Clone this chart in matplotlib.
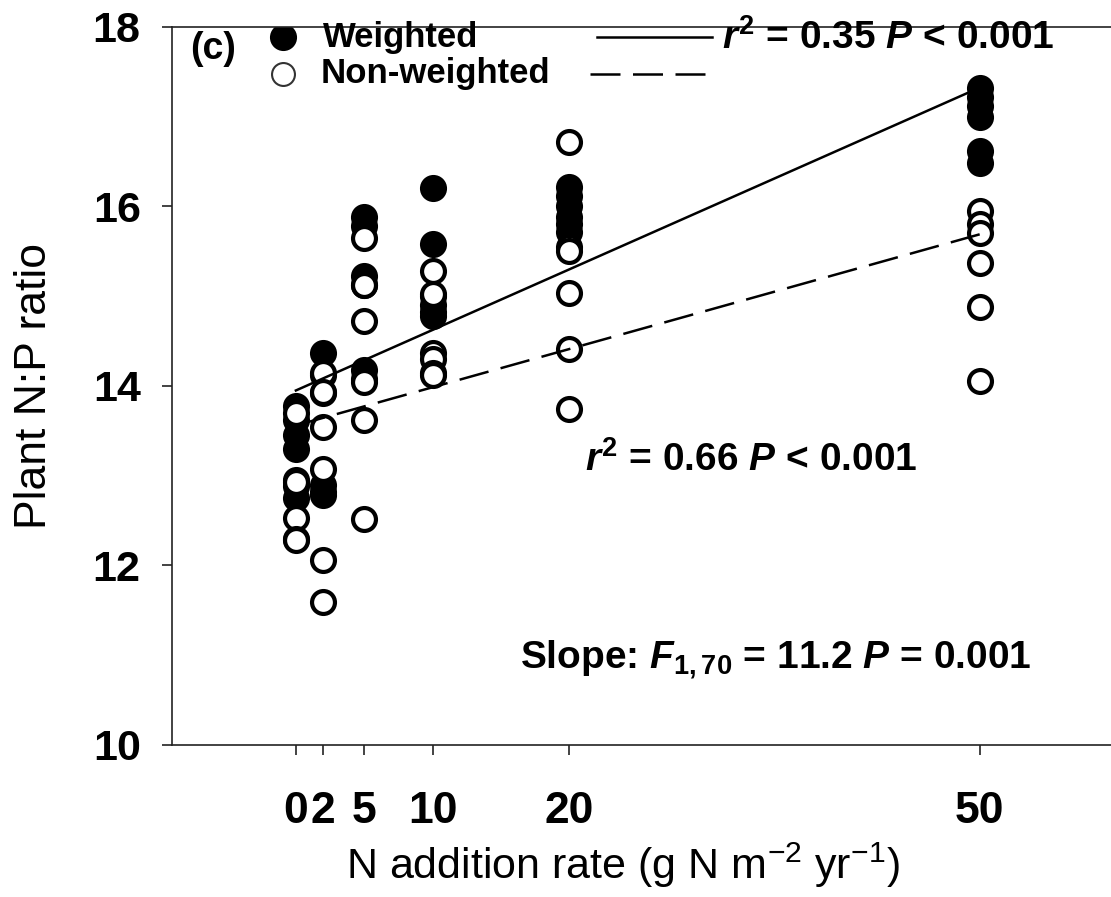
import numpy as np
import matplotlib
matplotlib.use("Agg")
import matplotlib.pyplot as plt
from matplotlib.lines import Line2D

# ------------------------- #
# Dados
# ------------------------- #
n_levels = [0, 2, 5, 10, 20, 50]
tick_labels = ["0", "2", "5", "10", "20", "50"]

# N:P ponderado (círculos cheios), 6 réplicas por nível
weighted = [
    [13.78, 13.62, 13.45, 13.30, 12.88, 12.75],
    [14.37, 14.12, 13.92, 12.90, 12.82, 12.78],
    [15.88, 15.78, 15.22, 15.12, 14.18, 14.08],
    [16.21, 15.58, 15.00, 14.90, 14.82, 14.78],
    [16.22, 16.12, 16.00, 15.88, 15.80, 15.72],
    [17.32, 17.22, 17.12, 17.00, 16.62, 16.48],
]

# N:P não ponderado (círculos abertos)
non_weighted = [
    [13.70, 12.95, 12.93, 12.53, 12.29, 12.28],
    [14.15, 13.93, 13.54, 13.07, 12.06, 11.59],
    [15.65, 15.13, 14.72, 14.04, 13.62, 12.52],
    [15.28, 15.02, 14.37, 14.30, 14.15, 14.12],
    [16.72, 15.55, 15.50, 15.04, 14.41, 13.74],
    [15.95, 15.80, 15.70, 15.37, 14.88, 14.06],
]

# regressões (intercepto, inclinação)
fit_weighted = (13.95, 0.0675)
fit_non_weighted = (13.56, 0.0426)

txt_weighted = r"$r^2$ = 0.35 $P$ < 0.001"
txt_non_weighted = r"$r^2$ = 0.66 $P$ < 0.001"
txt_slope = r"Slope: $F_{1,70}$ = 11.2 $P$ = 0.001"

# ------------------------- #
# Estilo
# ------------------------- #
plt.rcParams["font.family"] = ["Liberation Sans", "DejaVu Sans"]
plt.rcParams["mathtext.fontset"] = "custom"
plt.rcParams["mathtext.rm"] = "Liberation Sans:bold"
plt.rcParams["mathtext.it"] = "Liberation Sans:italic:bold"
plt.rcParams["mathtext.bf"] = "Liberation Sans:bold"

fig = plt.figure(figsize=(11.11, 8.97), dpi=100)
ax = fig.add_axes([0.1548, 0.1695, 0.8452, 0.8004])

MS = 16.5
EW = 3.0

# pontos ponderados (cheios)
for x, vals in zip(n_levels, weighted):
    ax.plot([x] * len(vals), vals, "o", ms=MS, mfc="black", mec="black",
            mew=EW, ls="none", zorder=3)

# pontos não ponderados (abertos)
for x, vals in zip(n_levels, non_weighted):
    ax.plot([x] * len(vals), vals, "o", ms=MS, mfc="white", mec="black",
            mew=EW, ls="none", zorder=4)

# linhas de regressão
xx = np.array([n_levels[0], n_levels[-1]])
ax.plot(xx, fit_weighted[0] + fit_weighted[1] * xx, color="black",
        lw=1.8, zorder=5)
ax.plot(xx, fit_non_weighted[0] + fit_non_weighted[1] * xx, color="black",
        lw=1.8, ls=(0, (12, 5)), zorder=5)

# eixos
ax.set_xlim(-9.06, 59.6)
ax.set_ylim(10, 18)
ax.set_xticks(n_levels)
ax.set_xticklabels(tick_labels)
ax.set_yticks([10, 12, 14, 16, 18])
ax.spines["right"].set_visible(False)
for s in ["left", "bottom", "top"]:
    ax.spines[s].set_linewidth(1.2)
    ax.spines[s].set_color("#222222")
ax.tick_params(axis="both", direction="out", length=7.5, width=1.2,
               color="#222222")
ax.tick_params(axis="x", pad=26, labelsize=32)
ax.tick_params(axis="y", pad=15, labelsize=31)
for lab in ax.get_xticklabels() + ax.get_yticklabels():
    lab.set_fontweight("bold")

ax.set_xlabel(r"N addition rate (g N m$^{\mathregular{-2}}$ yr$^{\mathregular{-1}}$)",
              fontsize=31)
ax.xaxis.set_label_coords(0.48, -0.133)
ax.set_ylabel("Plant N:P ratio", fontsize=32)
ax.yaxis.set_label_coords(-0.125, 0.5)

# legenda manual
ax.text(0.0437, 0.970, "(c)", transform=ax.transAxes, ha="center",
        va="center", fontsize=27, fontweight="bold")
ax.add_line(Line2D([0.118], [0.986], marker="o", ms=MS, mfc="black",
                   mec="black", mew=EW, transform=ax.transAxes))
ax.add_line(Line2D([0.118], [0.935], marker="o", ms=MS, mfc="white",
                   mec="#333333", mew=1.5, transform=ax.transAxes))
ax.text(0.161, 0.986, "Weighted", transform=ax.transAxes, ha="left",
        va="center", fontsize=25, fontweight="bold")
ax.text(0.158, 0.935, "Non-weighted", transform=ax.transAxes, ha="left",
        va="center", fontsize=25, fontweight="bold")
ax.add_line(Line2D([0.4526, 0.575], [0.986, 0.986], color="black", lw=1.8,
                   transform=ax.transAxes))
ax.add_line(Line2D([0.445, 0.575], [0.935, 0.935], color="black", lw=1.8,
                   ls=(0, (12, 5)), transform=ax.transAxes))
ax.text(0.586, 0.984, txt_weighted, transform=ax.transAxes, ha="left",
        va="center", fontsize=28, fontweight="bold")
ax.text(0.44, 0.397, txt_non_weighted, transform=ax.transAxes, ha="left",
        va="center", fontsize=28, fontweight="bold")
ax.text(0.3706, 0.118, txt_slope, transform=ax.transAxes, ha="left",
        va="center", fontsize=28, fontweight="bold")

fig.savefig("out.png", dpi=100)
